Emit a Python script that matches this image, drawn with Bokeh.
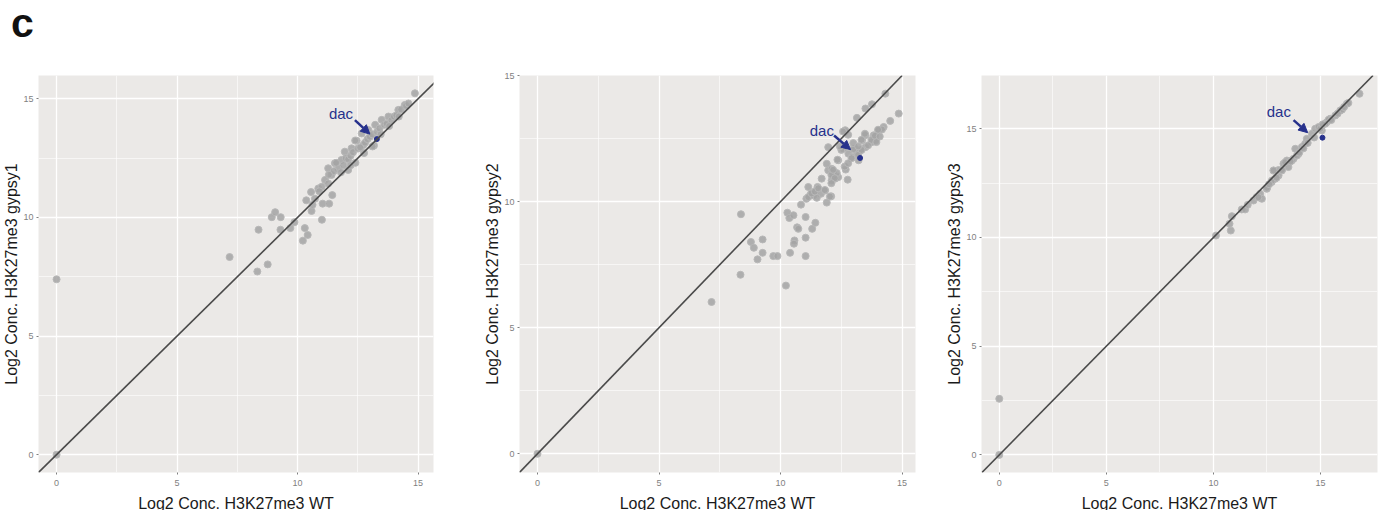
from bokeh.plotting import figure
from bokeh.layouts import row, column
from bokeh.models import FixedTicker, Slope, Arrow, NormalHead, Label, Range1d, Div
from bokeh.embed import file_html
from bokeh.resources import INLINE

# ---------------- data ----------------
ticks = [0, 5, 10, 15]
minor = [2.5, 7.5, 12.5]
panel_letter = "c"
x_title = "Log2 Conc. H3K27me3 WT"
y_titles = ["Log2 Conc. H3K27me3 gypsy1", "Log2 Conc. H3K27me3 gypsy2", "Log2 Conc. H3K27me3 gypsy3"]

wt1 = [0, 0, 7.18, 8.33, 8.38, 8.76, 8.93, 9.07, 9.3, 9.29, 9.7, 9.87, 10.22, 10.3, 10.42, 10.36,
       10.58, 10.56, 10.62, 11.01, 11.04, 11.31, 11.44, 10.72, 10.86, 11.0, 11.14, 11.27, 11.41,
       11.27, 11.55, 11.69, 11.82, 11.96, 12.24, 12.45, 12.39, 12.73, 13.17, 12.66, 12.94, 13.22,
       13.49, 13.77, 14.18, 14.45, 14.87, 13.11, 12.76, 11.6, 11.9, 12.0, 12.1, 12.2, 12.3, 12.5,
       12.6, 12.8, 12.9, 13.0, 13.1, 13.3, 13.4, 13.6, 13.7, 13.9, 14.0, 14.1, 14.3, 14.5, 14.6,
       12.1, 12.4, 11.8, 11.5, 12.2, 13.45, 13.8, 14.2, 11.3, 10.9]
g1 = [7.39, 0, 8.33, 7.72, 9.48, 8.02, 10.01, 10.22, 10.01, 9.48, 9.55, 9.8, 9.02, 9.55, 9.26, 10.72,
      10.27, 11.07, 10.53, 9.9, 10.58, 10.58, 10.94, 10.79, 11.22, 11.29, 11.58, 11.43, 11.79,
      12.07, 12.28, 12.07, 12.42, 12.77, 12.91, 13.23, 13.24, 13.05, 13.03, 13.54, 13.68, 13.9,
      14.11, 14.25, 14.53, 14.74, 15.23, 12.99, 12.71, 12.3, 12.2, 12.5, 12.45, 12.6, 12.75, 12.9,
      12.95, 13.15, 13.3, 13.4, 13.5, 13.6, 13.75, 13.9, 13.95, 14.1, 14.25, 14.3, 14.55, 14.7, 14.8,
      12.0, 12.3, 11.9, 11.95, 12.2, 13.5, 13.85, 14.25, 11.8, 11.1]

wt2 = [0, 7.16, 8.35, 8.37, 8.78, 8.9, 9.05, 9.26, 9.26, 9.7, 9.87, 10.22, 10.39, 11.03, 10.28, 10.36,
       10.53, 10.68, 10.73, 10.57, 10.55, 11.03, 11.03, 11.3, 11.43, 10.84, 11.06, 11.14, 11.25,
       11.44, 11.52, 11.69, 11.66, 11.83, 11.9, 12.08, 12.1, 12.17, 12.24, 11.9, 11.96, 12.37,
       12.68, 12.76, 12.79, 12.6, 12.64, 12.66, 13.14, 13.49, 13.76, 14.31, 14.86, 14.51, 14.24,
       14.03, 13.83, 13.49, 13.35, 13.76, 13.49, 13.28, 13.07, 12.93, 13.21, 13.14, 13.6, 13.9,
       14.17, 12.37, 11.96, 12.1, 12.17, 11.14, 11.35, 11.49, 12.5, 12.44, 12.78, 12.57, 12.31,
       12.09, 12.23, 12.34, 12.92, 12.99, 12.99, 13.19, 13.33, 13.19, 13.33, 13.47, 13.74, 13.88,
       14.01, 14.08, 13.94, 11.27, 11.41, 11.55, 11.82, 12.03, 12.09, 12.16, 12.64, 12.78]
g2 = [0, 6.02, 7.1, 9.5, 8.4, 8.17, 7.71, 8.5, 7.97, 7.84, 7.84, 6.67, 7.97, 7.84, 9.56, 9.35,
      9.46, 8.98, 8.92, 8.46, 8.33, 9.39, 8.57, 8.92, 9.16, 9.88, 10.11, 10.58, 10.31,
      10.42, 10.58, 10.91, 10.31, 10.44, 9.96, 10.21, 10.84, 11.11, 10.91, 11.5, 12.16, 11.64,
      11.27, 10.87, 11.9, 12.1, 12.76, 12.83, 13.32, 13.69, 13.86, 14.28, 13.49, 13.2, 12.96,
      12.83, 12.63, 12.63, 12.43, 12.36, 12.16, 12.03, 12.1, 11.77, 11.64, 11.97, 12.23, 12.43,
      12.86, 10.97, 11.24, 11.3, 10.97, 10.18, 10.25, 10.15, 12.05, 12.19, 12.65, 12.78, 11.13,
      11.06, 10.93, 11.66, 11.72, 12.08, 12.32, 11.85, 12.05, 12.19, 12.45, 12.69, 12.45, 12.61,
      12.85, 12.58, 12.36, 10.33, 10.4, 10.53, 10.46, 10.2, 10.73, 11.26, 11.39, 11.52]

wt3 = [0, 0, 10.12, 10.81, 10.75, 10.86, 11.32, 11.48, 11.87, 12.02, 12.18, 12.26, 12.49, 12.72, 12.8,
       12.88, 13.04, 13.19, 13.27, 13.43, 13.5, 13.74, 13.82, 13.97, 14.13, 14.28, 14.36, 14.6,
       14.75, 14.91, 15.06, 15.3, 15.45, 15.69, 15.92, 16.23, 16.82, 16.3, 16.0, 15.38, 15.22,
       14.99, 13.9, 13.66, 13.35, 13.04, 12.81, 12.73, 12.5, 12.1, 11.6, 13.2, 13.6, 14.0, 14.4,
       14.7, 15.5, 15.8, 16.1, 12.95, 12.6, 14.2, 15.1]
g3 = [0, 2.58, 10.09, 10.32, 10.63, 10.98, 11.29, 11.29, 11.7, 11.86, 12.01, 11.78, 12.24, 12.55, 13.08,
      12.7, 12.85, 13.08, 13.39, 13.54, 13.24, 13.62, 14.08, 13.85, 14.16, 14.31, 14.54, 14.77,
      15.0, 15.08, 14.92, 15.31, 15.46, 15.61, 15.84, 16.15, 16.61, 16.19, 15.88, 15.42, 15.23,
      15.0, 13.77, 13.54, 13.46, 13.1, 13.08, 12.62, 12.28, 11.85, 11.5, 13.1, 13.5, 13.9, 14.35,
      14.6, 15.4, 15.7, 16.0, 12.75, 12.45, 14.1, 15.2]

dac_wt = [13.29, 13.27, 15.09]
dac_mut = [13.30, 11.73, 14.59]

# label / arrow anchor positions (data units) for the "dac" annotation
dac_text_x = [11.3, 11.2, 12.49]
dac_text_y = [14.0, 12.47, 15.42]
arrow_x0 = [12.38, 12.2, 13.74]
arrow_y0 = [14.1, 12.62, 15.4]
arrow_x1 = [13.0, 12.88, 14.4]
arrow_y1 = [13.51, 12.06, 14.82]

# axis ranges
x_ranges = [(-0.75, 15.64), (-0.74, 15.55), (-0.83, 17.66)]
y_ranges = [(-0.75, 15.98), (-0.74, 15.0), (-0.81, 17.45)]

# layout (px)
borders_left = [37, 48, 50]
borders_right = [38, 16, 6]
frame_w = [395, 396, 396]
letter_h = 50

NAVY = "#27318c"
BG = "#ebe9e7"
TICK_GRAY = "#7f7f7f"
FONT = "Liberation Sans"


def panel(i, xs, ys):
    p = figure(frame_width=frame_w[i], frame_height=397,
               min_border_left=borders_left[i], min_border_right=borders_right[i],
               min_border_top=75 - letter_h, min_border_bottom=38,
               x_range=Range1d(*x_ranges[i]), y_range=Range1d(*y_ranges[i]),
               output_backend="svg", toolbar_location=None,
               background_fill_color=BG, border_fill_color="white")
    p.outline_line_color = None
    for ax in (p.xaxis[0], p.yaxis[0]):
        ax.ticker = FixedTicker(ticks=ticks, minor_ticks=minor)
        ax.axis_line_color = None
        ax.major_tick_line_color = TICK_GRAY
        ax.major_tick_out = 2
        ax.major_tick_in = 0
        ax.minor_tick_line_color = None
        ax.major_label_text_font_size = "9px"
        ax.major_label_text_color = TICK_GRAY
        ax.major_label_text_font = FONT
        ax.axis_label_text_font = FONT
        ax.axis_label_text_font_size = "16px"
        ax.axis_label_text_font_style = "normal"
        ax.axis_label_text_color = "#1a1a1a"
    p.xaxis.major_label_standoff = 3
    p.yaxis.major_label_standoff = 1
    p.xaxis.axis_label_standoff = 6
    p.yaxis.axis_label_standoff = 0
    p.xaxis.axis_label = x_title
    p.yaxis.axis_label = y_titles[i]
    for g in (p.xgrid[0], p.ygrid[0]):
        g.grid_line_color = "white"
        g.grid_line_width = 1.3
        g.minor_grid_line_color = "white"
        g.minor_grid_line_width = 0.6
    p.add_layout(Slope(gradient=1, y_intercept=0, line_color="#4a4a4a", line_width=1.6))
    p.scatter(xs, ys, size=7, fill_color="#a3a3a3", line_color="#b8b8b8",
              fill_alpha=0.85, line_width=1)
    p.scatter([dac_wt[i]], [dac_mut[i]], size=5, fill_color=NAVY, line_color=NAVY)
    p.add_layout(Label(x=dac_text_x[i], y=dac_text_y[i], text="dac", text_color=NAVY,
                       text_font=FONT, text_font_size="15px"))
    p.add_layout(Arrow(x_start=arrow_x0[i], y_start=arrow_y0[i], x_end=arrow_x1[i], y_end=arrow_y1[i],
                       line_color=NAVY, line_width=2.5,
                       end=NormalHead(size=9, fill_color=NAVY, line_color=NAVY)))
    return p


p1 = panel(0, wt1, g1)
p2 = panel(1, wt2, g2)
p3 = panel(2, wt3, g3)

letter = Div(text=panel_letter, width=200, height=letter_h, margin=0,
             styles={"font-family": FONT, "font-size": "41px", "font-weight": "bold",
                     "line-height": "normal", "padding-left": "11px", "padding-top": "0px",
                     "color": "#111111"})

layout = column(letter, row(p1, p2, p3, spacing=0), spacing=0)
open("out.html", "w").write(file_html(layout, INLINE))
